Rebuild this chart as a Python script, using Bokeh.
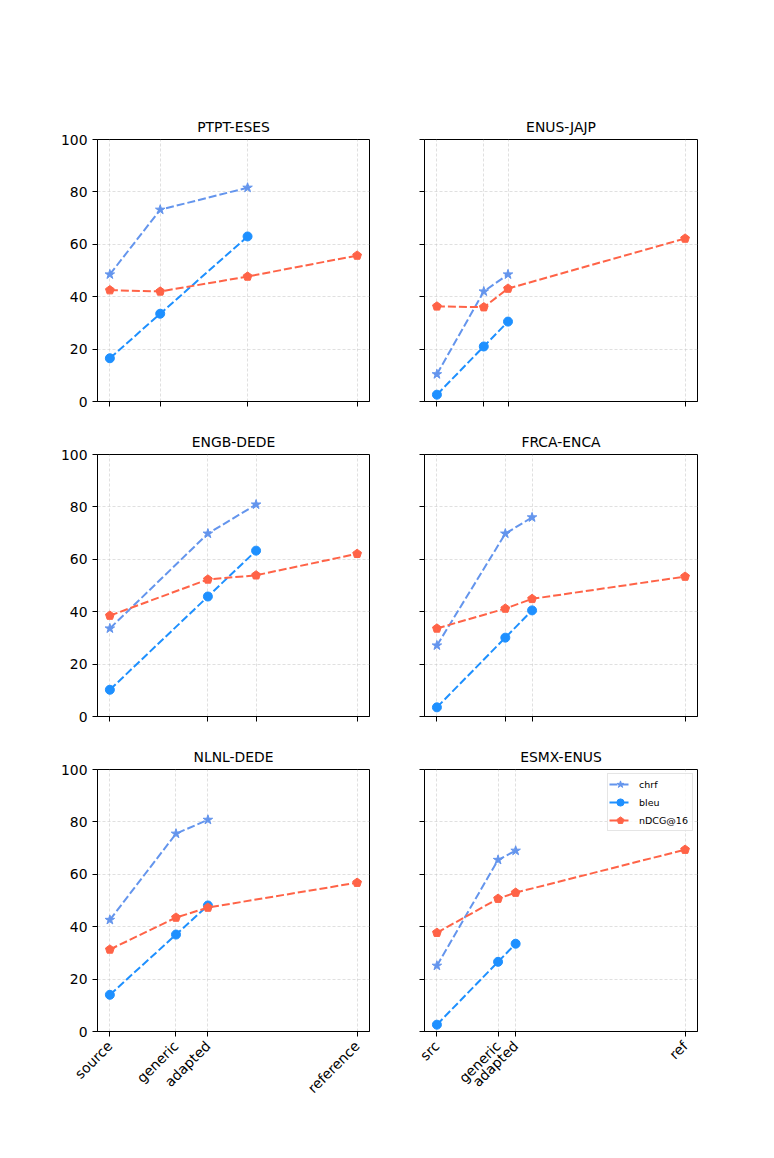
from math import pi
from bokeh.plotting import figure
from bokeh.layouts import column, row
from bokeh.models import FixedTicker, CustomJSTickFormatter, Range1d
from bokeh.embed import file_html
from bokeh.resources import INLINE

FONT = "DejaVu Sans"
C_CHRF = "#6495ED"
C_BLEU = "#1E90FF"
C_NDCG = "#FF6347"

titles = ["PTPT-ESES", "ENUS-JAJP", "ENGB-DEDE", "FRCA-ENCA", "NLNL-DEDE", "ESMX-ENUS"]
left_labels = ["source", "generic", "adapted", "reference"]
right_labels = ["src", "generic", "adapted", "ref"]
y_ticks = [0, 20, 40, 60, 80, 100]

ptpt_eses_chrf = [48.5, 73.2, 81.6]
ptpt_eses_bleu = [16.5, 33.5, 63.0]
ptpt_eses_ndcg = [42.5, 42.0, 47.7, 55.7]
enus_jajp_chrf = [10.4, 42.0, 48.5]
enus_jajp_bleu = [2.6, 21.0, 30.5]
enus_jajp_ndcg = [36.3, 36.0, 43.1, 62.2]
engb_dede_chrf = [33.6, 69.8, 80.9]
engb_dede_bleu = [10.2, 45.8, 63.3]
engb_dede_ndcg = [38.5, 52.3, 53.9, 62.1]
frca_enca_chrf = [27.1, 69.8, 76.0]
frca_enca_bleu = [3.5, 30.1, 40.5]
frca_enca_ndcg = [33.6, 41.2, 44.9, 53.4]
nlnl_dede_chrf = [42.6, 75.5, 80.8]
nlnl_dede_bleu = [14.0, 37.0, 48.1]
nlnl_dede_ndcg = [31.3, 43.5, 47.3, 56.8]
esmx_enus_chrf = [25.1, 65.5, 69.0]
esmx_enus_bleu = [2.6, 26.6, 33.5]
esmx_enus_ndcg = [37.7, 50.7, 53.0, 69.4]

panels = [
    (titles[0], ptpt_eses_chrf, ptpt_eses_bleu, ptpt_eses_ndcg, left_labels),
    (titles[1], enus_jajp_chrf, enus_jajp_bleu, enus_jajp_ndcg, right_labels),
    (titles[2], engb_dede_chrf, engb_dede_bleu, engb_dede_ndcg, left_labels),
    (titles[3], frca_enca_chrf, frca_enca_bleu, frca_enca_ndcg, right_labels),
    (titles[4], nlnl_dede_chrf, nlnl_dede_bleu, nlnl_dede_ndcg, left_labels),
    (titles[5], esmx_enus_chrf, esmx_enus_bleu, esmx_enus_ndcg, right_labels),
]

DASH = "8 3"
LW = 2

EMPTY = "return '';"


def pentagons(p, xs, ys, **kw):
    if hasattr(p, "ngon"):
        return p.ngon(x=xs, y=ys, radius=4.6, n=5, radius_units="screen",
                      fill_color=C_NDCG, line_color=C_NDCG, **kw)
    return p.scatter(xs, ys, marker="hex", size=9, fill_color=C_NDCG,
                     line_color=C_NDCG, **kw)


def make_panel(idx, title, chrf, bleu, ndcg, labels):
    r, c = divmod(idx, 2)
    frame_w = 272 if c == 0 else 273
    mbl = 97 if c == 0 else 35
    mbr = 20
    mbt = 139 if r == 0 else 33
    mbb = 80 if r == 2 else 20
    p = figure(width=mbl + frame_w + mbr, height=mbt + 262 + mbb,
               output_backend="svg", toolbar_location=None,
               x_range=Range1d(-0.05, 1.05), y_range=Range1d(0, 100),
               min_border_left=mbl, min_border_right=mbr,
               min_border_top=mbt, min_border_bottom=mbb)
    p.title.text = title
    p.title.text_font = FONT
    p.title.text_font_size = "13.9px"
    p.title.text_font_style = "normal"
    p.title.text_color = "black"
    p.title.align = "center"
    p.title.standoff = 9
    p.outline_line_color = "black"
    p.outline_line_width = 1
    p.outline_line_alpha = 1

    xs = [(b - bleu[0]) / (100 - bleu[0]) for b in bleu] + [1.0]

    for ax in (p.xaxis[0], p.yaxis[0]):
        ax.axis_line_color = "black"
        ax.major_tick_line_color = "black"
        ax.major_tick_in = 0
        ax.major_tick_out = 5
        ax.minor_tick_line_color = None
        ax.major_label_text_font = FONT
        ax.major_label_text_font_size = "13.9px"
        ax.major_label_text_color = "black"
        ax.major_label_standoff = 5

    p.xaxis.ticker = FixedTicker(ticks=xs)
    p.yaxis.ticker = FixedTicker(ticks=y_ticks)
    if r == 2:
        p.xaxis.formatter = CustomJSTickFormatter(args=dict(xs=xs, names=labels), code="""
            let best = -1, bd = 1e9;
            for (let i = 0; i < xs.length; i++) {
                const d = Math.abs(xs[i] - tick);
                if (d < bd) { bd = d; best = i; }
            }
            return (best >= 0 && bd < 1e-6) ? names[best] : '';
        """)
        p.xaxis.major_label_orientation = pi / 4
        p.xaxis.major_label_standoff = 7
    else:
        p.xaxis.formatter = CustomJSTickFormatter(code=EMPTY)
    if c == 1:
        p.yaxis.formatter = CustomJSTickFormatter(code=EMPTY)

    for g in (p.xgrid[0], p.ygrid[0]):
        g.grid_line_color = "#c8c8c8"
        g.grid_line_width = 0.7
        g.grid_line_dash = "3 2"
        g.grid_line_alpha = 0.8
    p.xgrid.ticker = FixedTicker(ticks=xs)
    p.ygrid.ticker = FixedTicker(ticks=y_ticks)

    leg = (r == 2 and c == 1)
    kw_c = dict(legend_label="chrf") if leg else {}
    kw_b = dict(legend_label="bleu") if leg else {}
    kw_n = dict(legend_label="nDCG@16") if leg else {}

    p.line(xs[:3], chrf, line_color=C_CHRF, line_width=LW, line_dash=DASH, **kw_c)
    p.scatter(xs[:3], chrf, marker="star", size=10, fill_color=C_CHRF,
              line_color=C_CHRF, **kw_c)
    p.line(xs[:3], bleu, line_color=C_BLEU, line_width=LW, line_dash=DASH, **kw_b)
    p.scatter(xs[:3], bleu, marker="circle", size=9, fill_color=C_BLEU,
              line_color=C_BLEU, **kw_b)
    p.line(xs, ndcg, line_color=C_NDCG, line_width=LW, line_dash=DASH, **kw_n)
    pentagons(p, xs, ndcg, **kw_n)

    if leg:
        lg = p.legend[0]
        lg.location = "top_right"
        lg.margin = 4
        lg.padding = 1
        lg.spacing = -3
        lg.glyph_width = 22
        lg.glyph_height = 18
        lg.label_height = 18
        lg.label_width = 52
        lg.label_standoff = 8
        lg.label_text_font = FONT
        lg.label_text_font_size = "9.5px"
        lg.label_text_color = "black"
        lg.border_line_color = "#cccccc"
        lg.border_line_width = 1
        lg.background_fill_alpha = 0.8
    return p


figs = [make_panel(i, *panels[i]) for i in range(6)]
layout = column(row(figs[0], figs[1]), row(figs[2], figs[3]), row(figs[4], figs[5]))

open("out.html", "w").write(file_html(layout, INLINE))
